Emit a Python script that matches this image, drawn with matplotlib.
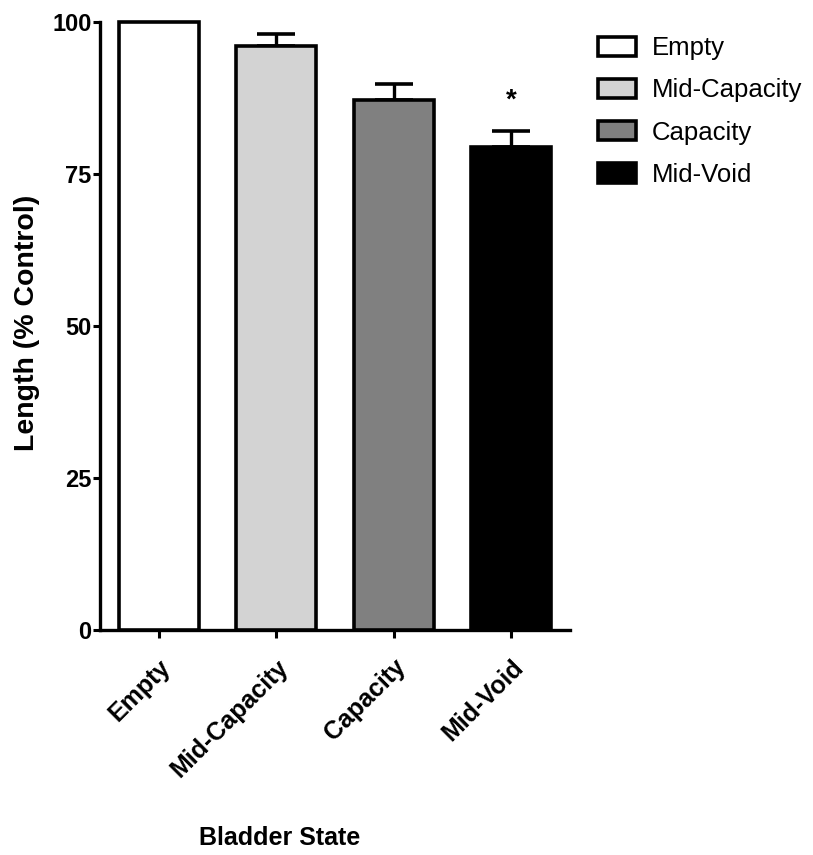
import matplotlib
matplotlib.use("Agg")
import matplotlib.pyplot as plt
from matplotlib.patches import Patch

plt.rcParams['font.family'] = ['Liberation Sans', 'DejaVu Sans']

# bladder length per state, % of control, with SEM (upper bars only)
states = ['Empty', 'Mid-Capacity', 'Capacity', 'Mid-Void']
length_pct = [100.0, 96.1, 87.2, 79.4]
sem = [0.0, 2.0, 2.6, 2.7]
fills = ['#ffffff', '#d3d3d3', '#808080', '#000000']
yticks = [0, 25, 50, 75, 100]

fig = plt.figure(figsize=(8.13, 8.55), dpi=100)
ax = fig.add_axes([100 / 813, 1 - 630 / 855, 470 / 813, 608 / 855])

x = list(range(len(states)))
bars = ax.bar(x, length_pct, width=0.68, color=fills, edgecolor='black', linewidth=2.6, zorder=3)
for b in bars:
    b.set_clip_on(False)
for xi, v, e in zip(x, length_pct, sem):
    if e > 0:
        ax.errorbar(xi, v, yerr=[[0], [e]], fmt='none', ecolor='black',
                    elinewidth=2.4, capsize=14, capthick=2.6, zorder=2)

# significance marker over Mid-Void
ax.text(3, 87.0, '*', ha='center', va='center', fontsize=20, fontweight='bold')

ax.set_xlim(-0.5, 3.5)
ax.set_ylim(0, 100)
ax.set_yticks(yticks)
ax.set_yticklabels([str(t) for t in yticks], fontsize=17, fontweight='bold')
ax.set_xticks(x)
ax.set_xticklabels(states, fontsize=18, fontweight='bold', rotation=45,
                   ha='right', va='top', rotation_mode='anchor')

for s in ['top', 'right']:
    ax.spines[s].set_visible(False)
for s in ['left', 'bottom']:
    ax.spines[s].set_linewidth(2.4)
ax.tick_params(axis='y', length=5, width=2.2, pad=1)
ax.tick_params(axis='x', length=6, width=2.2, pad=12)

ax.set_ylabel('Length (% Control)', fontsize=20.5, fontweight='bold')
ax.yaxis.set_label_coords(-60 / 470, 0.505)
fig.text(280 / 813, 1 - 838 / 855, 'Bladder State', ha='center', va='center',
         fontsize=18, fontweight='bold')

handles = [Patch(facecolor=c, edgecolor='black', linewidth=2.6) for c in fills]
fig.legend(handles, states, loc='upper left', bbox_to_anchor=(575 / 813, 1 - 13 / 855),
           frameon=False, fontsize=18.5, handlelength=1.48, handleheight=0.78,
           labelspacing=0.71, handletextpad=0.6)

fig.savefig('out.png', dpi=100)
